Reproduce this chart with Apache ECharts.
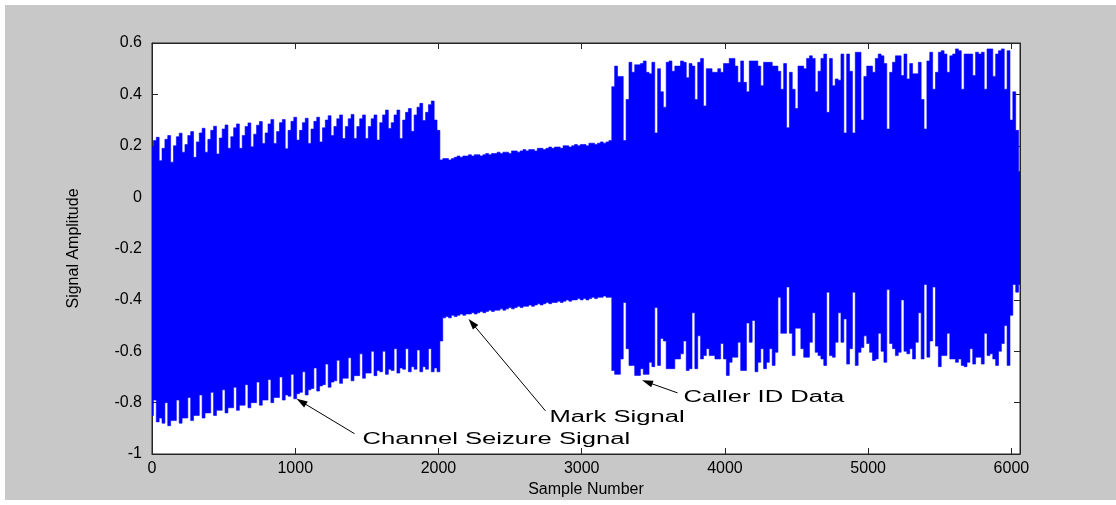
<!DOCTYPE html>
<html>
<head>
<meta charset="utf-8">
<script src="https://cdn.jsdelivr.net/npm/echarts@6/dist/echarts.min.js"></script>
<style>
html, body { margin: 0; padding: 0; background: #ffffff; }
#chart { position: absolute; left: 5px; top: 5px; width: 1111px; height: 495px; }
</style>
</head>
<body>
<div id="chart"></div>
<script>
// Envelope readings of the signal, one reading every 20 samples (sample 0, 20, 40, ...)
const sampleStep = 20;

// Channel seizure signal: samples 0 .. 2000
const channelUpper = [
  0.195, 0.22, 0.233, 0.142,
  0.19, 0.225, 0.240, 0.136,
  0.20, 0.235, 0.249, 0.175,
  0.205, 0.24, 0.255, 0.155,
  0.215, 0.25, 0.268, 0.175,
  0.225, 0.26, 0.276, 0.168,
  0.23, 0.265, 0.281, 0.19,
  0.235, 0.27, 0.285, 0.19,
  0.24, 0.275, 0.289, 0.196,
  0.245, 0.28, 0.294, 0.209,
  0.25, 0.285, 0.302, 0.209,
  0.255, 0.29, 0.302, 0.188,
  0.26, 0.295, 0.311, 0.222,
  0.26, 0.29, 0.307, 0.209,
  0.265, 0.295, 0.311, 0.215,
  0.27, 0.30, 0.317, 0.24,
  0.275, 0.305, 0.320, 0.228,
  0.275, 0.305, 0.322, 0.228,
  0.275, 0.305, 0.320, 0.228,
  0.275, 0.305, 0.320, 0.222,
  0.29, 0.32, 0.339, 0.267,
  0.29, 0.32, 0.339, 0.228,
  0.30, 0.33, 0.345, 0.256,
  0.32, 0.35, 0.365, 0.298,
  0.33, 0.36, 0.374, 0.30,
  0.26
];
const channelLower = [
  -0.85, -0.79, -0.875, -0.86,
  -0.88, -0.80, -0.89, -0.87,
  -0.87, -0.79, -0.88, -0.86,
  -0.86, -0.78, -0.87, -0.85,
  -0.85, -0.77, -0.86, -0.84,
  -0.84, -0.76, -0.85, -0.83,
  -0.83, -0.75, -0.84, -0.82,
  -0.82, -0.74, -0.83, -0.81,
  -0.81, -0.73, -0.82, -0.80,
  -0.80, -0.72, -0.81, -0.79,
  -0.79, -0.71, -0.80, -0.78,
  -0.78, -0.70, -0.79, -0.77,
  -0.775, -0.69, -0.785, -0.765,
  -0.76, -0.68, -0.77, -0.75,
  -0.745, -0.665, -0.755, -0.735,
  -0.73, -0.65, -0.74, -0.72,
  -0.715, -0.635, -0.725, -0.705,
  -0.705, -0.625, -0.715, -0.695,
  -0.695, -0.61, -0.705, -0.685,
  -0.685, -0.60, -0.695, -0.675,
  -0.68, -0.60, -0.69, -0.67,
  -0.675, -0.59, -0.685, -0.665,
  -0.67, -0.59, -0.68, -0.66,
  -0.67, -0.595, -0.68, -0.66,
  -0.67, -0.59, -0.68, -0.665,
  -0.68
];

// Mark signal: samples 2020 .. 3200
const markUpper = [
  0.145, 0.15, 0.15, 0.145, 0.15, 0.155, 0.16, 0.155, 0.16, 0.16,
  0.165, 0.16, 0.165, 0.165, 0.16, 0.165, 0.17, 0.165, 0.17, 0.17,
  0.175, 0.17, 0.175, 0.175, 0.17, 0.18, 0.18, 0.175, 0.18, 0.185,
  0.18, 0.185, 0.185, 0.18, 0.19, 0.19, 0.185, 0.19, 0.195, 0.19,
  0.195, 0.195, 0.19, 0.20, 0.20, 0.195, 0.20, 0.205, 0.20, 0.205,
  0.205, 0.20, 0.21, 0.21, 0.205, 0.21, 0.215, 0.21, 0.215, 0.22
];
const markLower = [
  -0.56, -0.47, -0.465, -0.47, -0.46, -0.465, -0.46, -0.455, -0.46, -0.455,
  -0.455, -0.45, -0.455, -0.45, -0.445, -0.45, -0.445, -0.44, -0.445, -0.44,
  -0.44, -0.435, -0.44, -0.435, -0.43, -0.435, -0.43, -0.425, -0.43, -0.425,
  -0.425, -0.42, -0.425, -0.42, -0.415, -0.42, -0.415, -0.41, -0.415, -0.41,
  -0.41, -0.405, -0.41, -0.405, -0.40, -0.405, -0.40, -0.40, -0.395, -0.40,
  -0.395, -0.40, -0.395, -0.39, -0.395, -0.39, -0.39, -0.385, -0.39, -0.39
];

// Caller ID data: samples 3220 .. 6060
const callerUpper = [
  0.43, 0.51, 0.47, 0.47, 0.22, 0.38, 0.525, 0.486, 0.515, 0.515,
  0.52, 0.53, 0.486, 0.48, 0.525, 0.25, 0.50, 0.41, 0.35, 0.525,
  0.53, 0.49, 0.51, 0.51, 0.53, 0.525, 0.465, 0.52, 0.51, 0.38,
  0.525, 0.54, 0.355, 0.50, 0.50, 0.486, 0.486, 0.50, 0.486, 0.52,
  0.52, 0.54, 0.54, 0.51, 0.447, 0.53, 0.447, 0.41, 0.53, 0.53,
  0.53, 0.51, 0.434, 0.525, 0.525, 0.525, 0.51, 0.51, 0.49, 0.42,
  0.52, 0.27, 0.486, 0.42, 0.345, 0.51, 0.51, 0.50, 0.54, 0.55,
  0.54, 0.41, 0.49, 0.54, 0.557, 0.33, 0.54, 0.434, 0.46, 0.455,
  0.557, 0.25, 0.557, 0.49, 0.25, 0.564, 0.564, 0.30, 0.47, 0.51,
  0.51, 0.486, 0.54, 0.557, 0.55, 0.52, 0.265, 0.486, 0.525, 0.55,
  0.55, 0.473, 0.557, 0.46, 0.52, 0.48, 0.48, 0.525, 0.38, 0.265,
  0.53, 0.564, 0.42, 0.486, 0.564, 0.57, 0.557, 0.486, 0.55, 0.557,
  0.577, 0.57, 0.42, 0.557, 0.557, 0.557, 0.473, 0.564, 0.557, 0.564,
  0.42, 0.577, 0.577, 0.47, 0.557, 0.57, 0.577, 0.42, 0.57, 0.30,
  0.41, 0.26, 0.10
];
const callerLower = [
  -0.675, -0.69, -0.69, -0.63, -0.41, -0.59, -0.655, -0.655, -0.694, -0.694,
  -0.668, -0.69, -0.69, -0.643, -0.66, -0.43, -0.655, -0.55, -0.56, -0.668,
  -0.668, -0.668, -0.63, -0.63, -0.61, -0.56, -0.675, -0.668, -0.45, -0.668,
  -0.54, -0.63, -0.617, -0.59, -0.617, -0.617, -0.63, -0.63, -0.57, -0.63,
  -0.694, -0.643, -0.623, -0.623, -0.565, -0.675, -0.675, -0.49, -0.565, -0.48,
  -0.68, -0.643, -0.59, -0.668, -0.643, -0.59, -0.655, -0.604, -0.39, -0.53,
  -0.53, -0.35, -0.53, -0.617, -0.51, -0.51, -0.59, -0.623, -0.623, -0.565,
  -0.45, -0.604, -0.617, -0.63, -0.655, -0.37, -0.617, -0.623, -0.565, -0.45,
  -0.565, -0.474, -0.65, -0.59, -0.37, -0.655, -0.604, -0.585, -0.54, -0.57,
  -0.604, -0.636, -0.63, -0.53, -0.60, -0.643, -0.36, -0.57, -0.59, -0.617,
  -0.604, -0.40, -0.60, -0.61, -0.59, -0.63, -0.565, -0.45, -0.63, -0.34,
  -0.623, -0.56, -0.35, -0.58, -0.66, -0.617, -0.617, -0.53, -0.63, -0.63,
  -0.643, -0.63, -0.655, -0.66, -0.643, -0.59, -0.65, -0.623, -0.623, -0.65,
  -0.53, -0.617, -0.61, -0.63, -0.655, -0.60, -0.57, -0.50, -0.655, -0.46,
  -0.34, -0.37, -0.34
];

// Axis ticks
const xTicks = [0, 1000, 2000, 3000, 4000, 5000, 6000];
const yTicks = [-1, -0.8, -0.6, -0.4, -0.2, 0, 0.2, 0.4, 0.6];

// Annotations (text anchor, arrow tail, arrow head) in data coordinates
const annotationLabels = ['Channel Seizure Signal', 'Mark Signal', 'Caller ID Data'];
const annotationTextAt = [[1470, -0.943], [2775, -0.857], [3711, -0.781]];
const arrowFrom = [[1414, -0.921], [2747, -0.832], [3669, -0.762]];
const arrowTo = [[1009, -0.785], [2210, -0.474], [3421, -0.713]];

const upperAll = channelUpper.concat(markUpper, callerUpper);
const lowerAll = channelLower.concat(markLower, callerLower);
const bandData = upperAll.map((u, i) => [i * sampleStep, lowerAll[i], u]);
const annotationData = annotationLabels.map((_, i) => [
  annotationTextAt[i][0], annotationTextAt[i][1],
  arrowFrom[i][0], arrowFrom[i][1],
  arrowTo[i][0], arrowTo[i][1]
]);

const FONT = 'Liberation Sans, Arial, Helvetica, sans-serif';
const AXIS_COLOR = '#262626';
const SIGNAL_BLUE = '#0000ff';

// The whole envelope is drawn as one stepped polygon (no seams between readings);
// every vertex goes through the cartesian scales with api.coord.
function renderBand(params, api) {
  if (params.dataIndex !== 0) return null;
  const half = sampleStep / 2;
  const topEdge = [];
  const bottomEdge = [];
  for (let i = 0; i < bandData.length; i++) {
    const s = bandData[i][0], lo = bandData[i][1], hi = bandData[i][2];
    topEdge.push(api.coord([s - half, hi]), api.coord([s + half, hi]));
    bottomEdge.push(api.coord([s - half, lo]), api.coord([s + half, lo]));
  }
  const points = topEdge.concat(bottomEdge.reverse());
  return {
    type: 'polygon',
    shape: { points: points },
    style: { fill: SIGNAL_BLUE, stroke: SIGNAL_BLUE, lineWidth: 0.6 }
  };
}

function renderAnnotation(params, api) {
  const i = params.dataIndex;
  const t = api.coord([api.value(0), api.value(1)]);
  const f = api.coord([api.value(2), api.value(3)]);
  const a = api.coord([api.value(4), api.value(5)]);
  const dx = a[0] - f[0], dy = a[1] - f[1];
  const len = Math.hypot(dx, dy);
  const ux = dx / len, uy = dy / len;
  const L = 11, W = 3.5;
  const bx = a[0] - ux * L, by = a[1] - uy * L;
  return {
    type: 'group',
    children: [
      { type: 'line', shape: { x1: f[0], y1: f[1], x2: bx + ux * 2, y2: by + uy * 2 },
        style: { stroke: '#000', lineWidth: 1 } },
      { type: 'polygon',
        shape: { points: [[a[0], a[1]], [bx - uy * W, by + ux * W], [bx + uy * W, by - ux * W]] },
        style: { fill: '#000' } },
      { type: 'text', x: t[0], y: t[1], scaleX: 1.6,
        style: { text: annotationLabels[i], fill: '#000', fontSize: 16, fontFamily: FONT,
                 align: 'left', verticalAlign: 'middle' } }
    ]
  };
}

const chart = echarts.init(document.getElementById('chart'));
const tickLabelStyle = { color: '#000', fontSize: 16, fontFamily: FONT };
const axisBase = {
  type: 'value',
  axisLine: { show: true, onZero: false, lineStyle: { color: AXIS_COLOR, width: 1 } },
  axisTick: { show: true, inside: true, length: 6, lineStyle: { color: AXIS_COLOR, width: 1 } },
  splitLine: { show: false }
};

chart.setOption({
  animation: false,
  backgroundColor: '#c8c8c8',
  grid: {
    left: 147, top: 38, right: 96, bottom: 46,
    outerBoundsMode: 'none', containLabel: false,
    show: true, backgroundColor: '#ffffff', borderColor: AXIS_COLOR, borderWidth: 1
  },
  xAxis: [
    Object.assign({}, axisBase, {
      position: 'bottom', min: xTicks[0], max: 6060, interval: xTicks[1] - xTicks[0],
      axisLabel: Object.assign({ margin: 7, showMaxLabel: false,
        formatter: v => (xTicks.indexOf(v) >= 0 ? String(v) : '') }, tickLabelStyle),
      name: 'Sample Number', nameLocation: 'middle', nameGap: 27,
      nameTextStyle: { color: '#000', fontSize: 16, fontFamily: FONT }
    }),
    Object.assign({}, axisBase, {
      position: 'top', min: xTicks[0], max: 6060, interval: xTicks[1] - xTicks[0],
      axisLabel: { show: false }
    })
  ],
  yAxis: [
    Object.assign({}, axisBase, {
      position: 'left', min: yTicks[0], max: yTicks[yTicks.length - 1], interval: 0.2,
      axisLabel: Object.assign({ margin: 10,
        formatter: v => String(Math.round(v * 10) / 10) }, tickLabelStyle),
      name: 'Signal Amplitude', nameLocation: 'middle', nameGap: 70, nameRotate: 90,
      nameTextStyle: { color: '#000', fontSize: 16, fontFamily: FONT }
    }),
    Object.assign({}, axisBase, {
      position: 'right', min: yTicks[0], max: yTicks[yTicks.length - 1], interval: 0.2,
      axisLabel: { show: false }
    })
  ],
  series: [
    {
      name: 'Signal',
      type: 'custom',
      renderItem: renderBand,
      data: bandData,
      encode: { x: 0, y: [1, 2] },
      clip: true,
      silent: true,
      z: 2
    },
    {
      name: 'Annotations',
      type: 'custom',
      renderItem: renderAnnotation,
      data: annotationData,
      encode: { x: [0, 2, 4], y: [1, 3, 5] },
      clip: false,
      silent: true,
      z: 5
    }
  ]
});
</script>
</body>
</html>
